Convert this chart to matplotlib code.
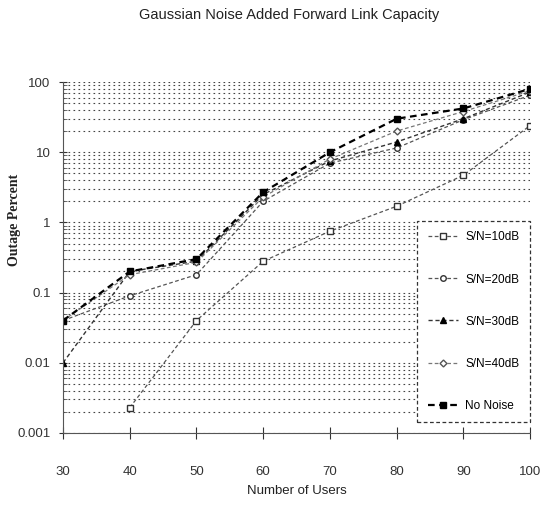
import numpy as np
import matplotlib
matplotlib.use("Agg")
import matplotlib.pyplot as plt
from matplotlib.ticker import FixedLocator, FixedFormatter, LogLocator, NullFormatter

plt.rcParams['font.family'] = ['Liberation Sans', 'DejaVu Sans']

# data (outage percent vs number of users)
users = [30, 40, 50, 60, 70, 80, 90, 100]
sn10 = [np.nan, 0.0023, 0.04, 0.28, 0.75, 1.7, 4.7, 24]
sn20 = [0.04, 0.09, 0.18, 2.0, 7.0, 11.5, 29, 65]
sn30 = [0.01, 0.2, 0.28, 2.5, 7.5, 14, 30, 72]
sn40 = [0.04, 0.18, 0.27, 2.3, 8.0, 20, 38, 75]
no_noise = [0.04, 0.2, 0.3, 2.7, 10, 30, 42, 80]

ytick_vals = [0.001, 0.01, 0.1, 1, 10, 100]
ytick_labels = ['0.001', '0.01', '0.1', '1', '10', '100']

fig = plt.figure(figsize=(5.41, 5.05), dpi=100)
ax = fig.add_axes([0.1165, 0.1426, 0.8635, 0.695])

dash = (0, (3, 2))
ax.plot(users, sn10, color='#555555', lw=0.9, ls=dash, marker='s', ms=4,
        mfc='white', mec='#333333', label='S/N=10dB')
ax.plot(users, sn20, color='#555555', lw=0.9, ls=dash, marker='o', ms=4,
        mfc='white', mec='#333333', label='S/N=20dB')
ax.plot(users, sn30, color='#333333', lw=1.0, ls=dash, marker='^', ms=4.5,
        mfc='black', mec='black', label='S/N=30dB')
ax.plot(users, sn40, color='#777777', lw=0.9, ls=dash, marker='D', ms=3.5,
        mfc='white', mec='#555555', label='S/N=40dB')
ax.plot(users, no_noise, color='black', lw=1.6, ls=dash, marker='s', ms=4.5,
        mfc='black', mec='black', label='No Noise')

ax.set_yscale('log')
ax.set_ylim(0.001, 100)
ax.set_xlim(30, 100)
ax.yaxis.set_major_locator(FixedLocator(ytick_vals))
ax.yaxis.set_major_formatter(FixedFormatter(ytick_labels))
ax.yaxis.set_minor_locator(LogLocator(base=10, subs=np.arange(2, 10)))
ax.yaxis.set_minor_formatter(NullFormatter())
ax.set_xticks(users)

ax.grid(True, which='both', axis='y', color='#444444', ls=(0, (1.5, 3)), lw=0.8)
ax.spines['top'].set_visible(False)
ax.spines['right'].set_visible(False)
ax.spines['left'].set_color('#555555')
ax.spines['bottom'].set_color('#555555')

ax.tick_params(axis='x', direction='inout', length=8, pad=20, labelsize=9.5, colors='#333333')
ax.tick_params(axis='y', which='major', direction='inout', length=6, pad=6, labelsize=9.5, colors='#333333')
ax.tick_params(axis='y', which='minor', direction='in', length=3, colors='#555555')

ax.set_xlabel('Number of Users', fontsize=9.5, labelpad=5, color='#222222')
# y label sits far left, above the middle of the axis
fig.text(15 / 541, 1 - 220 / 505, 'Outage Percent', rotation=90, ha='center', va='center',
         fontsize=10, fontweight='bold', family='Liberation Serif', color='#222222')
fig.suptitle('Gaussian Noise Added Forward Link Capacity', fontsize=10.5, y=0.985, x=0.535, color='#222222')

leg = ax.legend(loc='lower right', bbox_to_anchor=(1.0, 0.03), fontsize=8.5, frameon=True,
                fancybox=False, labelspacing=2.55, handlelength=2.6, handletextpad=0.6,
                borderpad=0.9, borderaxespad=0, edgecolor='#333333', framealpha=1)
leg.get_frame().set_linestyle((0, (3, 2)))
leg.get_frame().set_linewidth(0.9)

fig.savefig('out.png', dpi=100)
